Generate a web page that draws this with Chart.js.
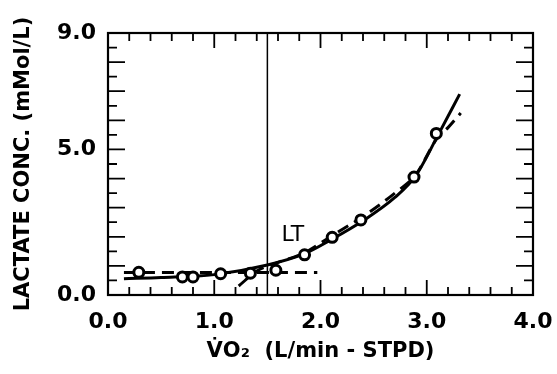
<!DOCTYPE html>
<html>
<head>
<meta charset="utf-8">
<script src="https://cdn.jsdelivr.net/npm/chart.js@4.4.1/dist/chart.umd.min.js"></script>
<style>
  html, body { margin: 0; padding: 0; background: #fff; }
</style>
</head>
<body>
<canvas id="lactateChart" width="557" height="374"></canvas>
<script>
// measured points (circles)
const vo2Measured = [0.29, 0.70, 0.80, 1.06, 1.34, 1.58, 1.85, 2.11, 2.38, 2.88, 3.09];
const lactateMeasured = [0.78, 0.62, 0.62, 0.73, 0.75, 0.85, 1.38, 1.98, 2.58, 4.05, 5.55];

// solid fitted curve
const vo2Fit = [0.15, 0.5, 1.0, 1.5, 1.85, 2.1, 2.4, 2.7, 2.9, 3.1, 3.31];
const lactateFit = [0.56, 0.60, 0.70, 1.03, 1.42, 1.90, 2.55, 3.35, 4.12, 5.45, 6.90];

// dashed lines: flat baseline and the rising segment
const vo2Baseline = [0.15, 1.97];
const lactateBaseline = [0.77, 0.77];
const vo2Rise = [1.23, 1.40, 1.6, 1.85, 2.1, 2.4, 2.7, 2.9, 3.1, 3.2, 3.32];
const lactateRise = [0.31, 0.82, 1.12, 1.45, 2.02, 2.70, 3.50, 4.15, 5.40, 5.75, 6.25];

// lactate threshold
const ltVO2 = 1.5;
const ltLabel = 'LT';

const xTickValues = [0, 1, 2, 3, 4];
const yTickValues = [0, 5, 9];

const toXY = (xs, ys) => xs.map((v, i) => ({ x: v, y: ys[i] }));

const labelFont = { family: 'DejaVu Sans', weight: 'bold', size: 22 };
const titleFont = { family: 'DejaVu Sans', weight: 'bold', size: 21 };

// frame with inward tick marks on all four sides + the LT label
const frameTicks = {
    id: 'frameTicks',
    afterDatasetsDraw(chart) {
        const { ctx, chartArea: a, scales: { x, y } } = chart;
        ctx.save();
        ctx.strokeStyle = '#000';
        ctx.lineWidth = 2.2;
        ctx.strokeRect(a.left, a.top, a.right - a.left, a.bottom - a.top);
        ctx.beginPath();
        ctx.lineWidth = 1.8;
        for (let i = 0; i <= 20; i++) {
            const px = x.getPixelForValue(i * 0.2);
            const len = i % 5 === 0 ? 15 : 8;
            ctx.moveTo(px, a.bottom); ctx.lineTo(px, a.bottom - len);
            ctx.moveTo(px, a.top); ctx.lineTo(px, a.top + len);
        }
        for (let i = 0; i <= 18; i++) {
            const py = y.getPixelForValue(i * 0.5);
            const len = i % 2 === 0 ? 17 : 9;
            ctx.moveTo(a.left, py); ctx.lineTo(a.left + len, py);
            ctx.moveTo(a.right, py); ctx.lineTo(a.right - len, py);
        }
        ctx.stroke();

        ctx.fillStyle = '#000';
        ctx.font = '22px "DejaVu Sans"';
        ctx.textAlign = 'center';
        ctx.textBaseline = 'middle';
        ctx.fillText(ltLabel, x.getPixelForValue(1.74), y.getPixelForValue(2.06));
        ctx.restore();
    }
};

new Chart(document.getElementById('lactateChart').getContext('2d'), {
    type: 'scatter',
    data: {
        datasets: [
            {
                label: 'measured',
                data: toXY(vo2Measured, lactateMeasured),
                pointRadius: 5,
                pointBorderWidth: 3,
                pointBorderColor: '#000',
                pointBackgroundColor: '#fff',
                showLine: false
            },
            {
                label: 'fit',
                data: toXY(vo2Fit, lactateFit),
                showLine: true,
                borderColor: '#000',
                borderWidth: 3,
                pointRadius: 0,
                cubicInterpolationMode: 'monotone'
            },
            {
                label: 'baseline',
                data: toXY(vo2Baseline, lactateBaseline),
                showLine: true,
                borderColor: '#000',
                borderWidth: 3,
                borderDash: [12, 7],
                pointRadius: 0
            },
            {
                label: 'rise',
                data: toXY(vo2Rise, lactateRise),
                showLine: true,
                borderColor: '#000',
                borderWidth: 3,
                borderDash: [12, 7],
                pointRadius: 0,
                cubicInterpolationMode: 'monotone'
            },
            {
                label: 'LT',
                data: toXY([ltVO2, ltVO2], [0, 9]),
                showLine: true,
                borderColor: '#000',
                borderWidth: 1.5,
                pointRadius: 0
            }
        ]
    },
    options: {
        responsive: false,
        animation: false,
        devicePixelRatio: 1,
        layout: { padding: { top: 33, right: 24, left: 0, bottom: 0 } },
        plugins: { legend: { display: false }, tooltip: { enabled: false } },
        scales: {
            x: {
                type: 'linear',
                min: 0,
                max: 4,
                afterBuildTicks: s => { s.ticks = xTickValues.map(v => ({ value: v })); },
                afterFit: s => { s.height = 79; s.paddingLeft = 0; s.paddingRight = 0; },
                grid: { display: false },
                border: { display: false },
                ticks: { color: '#000', font: labelFont, padding: 6, maxRotation: 0, callback: v => v.toFixed(1) },
                title: { display: true, text: 'V\u0307O\u2082  (L/min - STPD)', color: '#000', font: titleFont, padding: { top: 0, bottom: 10 } }
            },
            y: {
                type: 'linear',
                min: 0,
                max: 9,
                afterBuildTicks: s => { s.ticks = yTickValues.map(v => ({ value: v })); },
                afterFit: s => { s.width = 108; s.paddingTop = 0; s.paddingBottom = 0; },
                grid: { display: false },
                border: { display: false },
                ticks: { color: '#000', font: labelFont, padding: 4, callback: v => v.toFixed(1) },
                title: { display: true, text: 'LACTATE CONC. (mMol/L)', color: '#000', font: titleFont, padding: { top: 11, bottom: 0 } }
            }
        }
    },
    plugins: [frameTicks]
});
</script>
</body>
</html>
